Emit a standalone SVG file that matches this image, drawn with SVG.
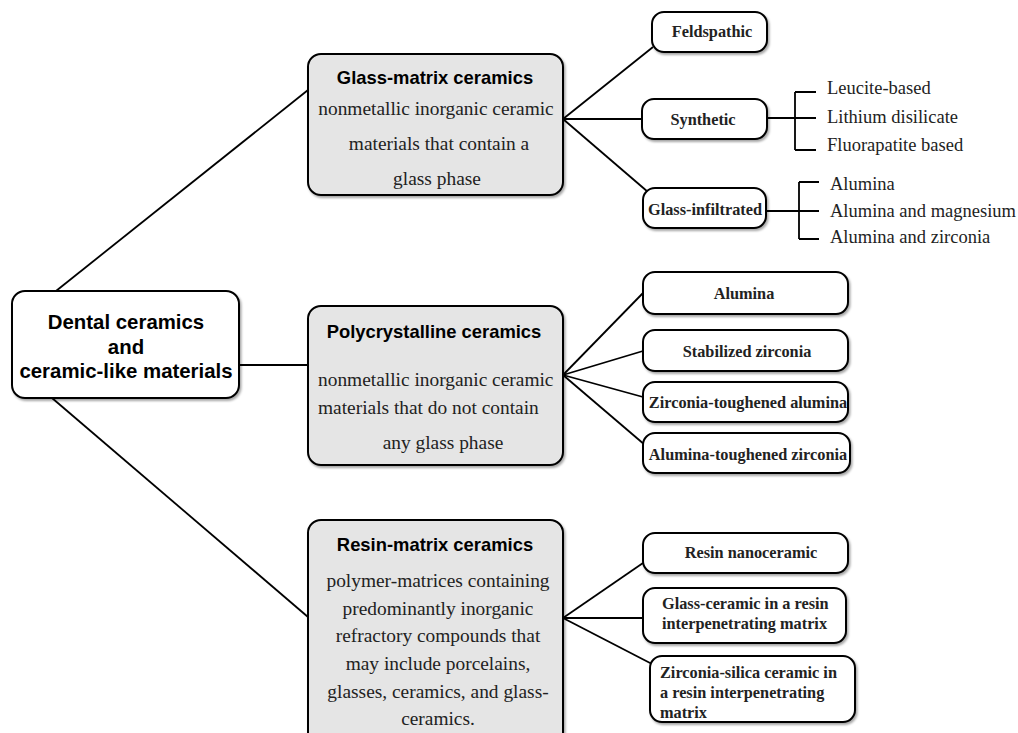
<svg xmlns="http://www.w3.org/2000/svg" width="1018" height="733" viewBox="0 0 1018 733">
<defs>
<filter id="sh" x="-10%" y="-10%" width="120%" height="130%">
<feDropShadow dx="1.5" dy="2" stdDeviation="1.2" flood-color="#000" flood-opacity="0.35"/>
</filter>
</defs>
<style>
.box{fill:#fff;stroke:#000;stroke-width:2;filter:url(#sh)}
.gbox{fill:#e5e5e5;stroke:#000;stroke-width:2;filter:url(#sh)}
.ln{stroke:#000;stroke-width:1.8;fill:none}
.root{font-family:"Liberation Sans",Arial,sans-serif;font-weight:bold;font-size:20.4px;fill:#000;text-anchor:middle}
.ttl{font-family:"Liberation Sans",Arial,sans-serif;font-weight:bold;font-size:18.4px;fill:#000;text-anchor:middle}
.body{font-family:"Liberation Serif","Times New Roman",serif;font-size:19.4px;fill:#222}
.leaf{font-family:"Liberation Serif","Times New Roman",serif;font-weight:bold;font-size:16.3px;fill:#222}
.sub{font-family:"Liberation Serif","Times New Roman",serif;font-size:18.5px;fill:#222}
.c{text-anchor:middle}
</style>
<rect width="1018" height="733" fill="#fff"/>
<g id="connectors">
<line class="ln" x1="56" y1="291" x2="308" y2="90"/>
<line class="ln" x1="239" y1="365" x2="308" y2="365"/>
<line class="ln" x1="52" y1="398" x2="308" y2="617"/>
<line class="ln" x1="563" y1="119" x2="653" y2="47"/>
<line class="ln" x1="563" y1="119" x2="642" y2="119"/>
<line class="ln" x1="563" y1="119" x2="648" y2="192"/>
<path class="ln" d="M767,118 H816 M795,92 V150 M795,92 H816 M795,150 H816"/>
<path class="ln" d="M766,211 H819 M799,182 V239 M799,182 H819 M799,239 H819"/>
<line class="ln" x1="563" y1="375" x2="643" y2="293"/>
<line class="ln" x1="563" y1="375" x2="643" y2="351"/>
<line class="ln" x1="563" y1="375" x2="643" y2="397"/>
<line class="ln" x1="563" y1="375" x2="645" y2="445"/>
<line class="ln" x1="563" y1="618" x2="643" y2="563"/>
<line class="ln" x1="563" y1="618" x2="643" y2="618"/>
<line class="ln" x1="563" y1="618" x2="652" y2="664"/>
</g>
<g id="root">
<rect class="box" x="12" y="291" width="227" height="107" rx="13"/>
<text class="root" x="126" y="329">Dental ceramics</text>
<text class="root" x="126" y="354">and</text>
<text class="root" x="126" y="378">ceramic-like materials</text>
</g>
<g id="glass-matrix">
<rect class="gbox" x="308" y="54" width="255" height="141" rx="13"/>
<text class="ttl" x="435" y="84">Glass-matrix ceramics</text>
<text class="body c" x="436" y="115">nonmetallic inorganic ceramic</text>
<text class="body c" x="439" y="150">materials that contain a</text>
<text class="body c" x="437" y="185">glass phase</text>
</g>
<g id="polycrystalline">
<rect class="gbox" x="308" y="306" width="255" height="159" rx="13"/>
<text class="ttl" x="434" y="338">Polycrystalline ceramics</text>
<text class="body" x="318" y="386">nonmetallic inorganic ceramic</text>
<text class="body" x="318" y="414">materials that do not contain</text>
<text class="body c" x="443" y="449">any glass phase</text>
</g>
<g id="resin-matrix">
<rect class="gbox" x="308" y="520" width="255" height="230" rx="13"/>
<text class="ttl" x="435" y="551">Resin-matrix ceramics</text>
<text class="body c" x="438" y="587">polymer-matrices containing</text>
<text class="body c" x="438" y="615">predominantly inorganic</text>
<text class="body c" x="438" y="642">refractory compounds that</text>
<text class="body c" x="438" y="670">may include porcelains,</text>
<text class="body c" x="438" y="698">glasses, ceramics, and glass-</text>
<text class="body c" x="438" y="725">ceramics.</text>
</g>
<g id="feldspathic">
<rect class="box" x="652" y="12" width="115" height="40" rx="12"/>
<text class="leaf c" x="712" y="37">Feldspathic</text>
</g>
<g id="synthetic">
<rect class="box" x="642" y="99" width="125" height="40" rx="12"/>
<text class="leaf c" x="703" y="125">Synthetic</text>
</g>
<g id="synthetic-types">
<text class="sub" x="827" y="94">Leucite-based</text>
<text class="sub" x="827" y="123">Lithium disilicate</text>
<text class="sub" x="827" y="151">Fluorapatite based</text>
</g>
<g id="glass-infiltrated">
<rect class="box" x="643" y="188" width="123" height="40" rx="12"/>
<text class="leaf c" x="705" y="215">Glass-infiltrated</text>
</g>
<g id="infiltrated-types">
<text class="sub" x="830" y="190">Alumina</text>
<text class="sub" x="830" y="217">Alumina and magnesium</text>
<text class="sub" x="830" y="243">Alumina and zirconia</text>
</g>
<g id="alumina">
<rect class="box" x="643" y="272" width="205" height="42" rx="12"/>
<text class="leaf c" x="744" y="299">Alumina</text>
</g>
<g id="stabilized-zirconia">
<rect class="box" x="643" y="330" width="205" height="41" rx="12"/>
<text class="leaf c" x="747" y="357">Stabilized zirconia</text>
</g>
<g id="zta">
<rect class="box" x="643" y="382" width="205" height="40" rx="12"/>
<text class="leaf c" x="748" y="408">Zirconia-toughened alumina</text>
</g>
<g id="atz">
<rect class="box" x="643" y="433" width="207" height="40" rx="12"/>
<text class="leaf c" x="748" y="460">Alumina-toughened zirconia</text>
</g>
<g id="resin-nanoceramic">
<rect class="box" x="643" y="533" width="205" height="40" rx="12"/>
<text class="leaf c" x="751" y="558">Resin nanoceramic</text>
</g>
<g id="glass-ceramic-resin">
<rect class="box" x="643" y="588" width="203" height="55" rx="12"/>
<text class="leaf" x="662" y="609">Glass-ceramic in a resin</text>
<text class="leaf" x="662" y="629">interpenetrating matrix</text>
</g>
<g id="zirconia-silica">
<rect class="box" x="650" y="656" width="205" height="66" rx="12"/>
<text class="leaf" x="660" y="678">Zirconia-silica ceramic in</text>
<text class="leaf" x="660" y="698">a resin interpenetrating</text>
<text class="leaf" x="660" y="718">matrix</text>
</g>
</svg>
